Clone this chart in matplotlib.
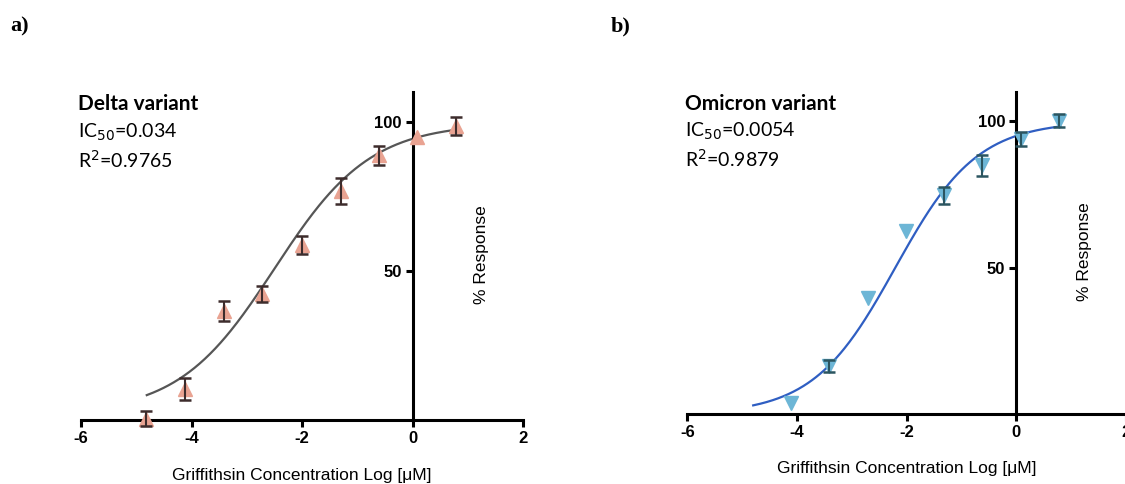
import numpy as np
import matplotlib
matplotlib.use("Agg")
import matplotlib.pyplot as plt

plt.rcParams["axes.unicode_minus"] = False

# ---- data ----
delta_x = [-4.82, -4.11, -3.42, -2.72, -2.01, -1.30, -0.61, 0.08, 0.78]
delta_y = [0.5, 10.5, 36.5, 42.3, 58.8, 76.8, 88.8, 94.9, 98.6]
delta_err = [2.5, 3.6, 3.3, 2.7, 3.0, 4.2, 3.2, 0.0, 3.0]
# 4PL fit parameters (bottom, top, logIC50, hill) for drawn curve
delta_fit = [2.0, 99.5, -2.50, 0.50]
delta_curve_range = [-4.81, 0.80]

omicron_x = [-4.11, -3.41, -2.71, -2.02, -1.32, -0.62, 0.08, 0.78]
omicron_y = [4.0, 16.5, 39.7, 62.5, 74.7, 85.0, 94.0, 100.2]
omicron_err = [0.0, 2.0, 0.0, 0.0, 3.0, 3.6, 2.4, 2.3]
omicron_fit = [0.0, 100.0, -2.21, 0.58]
omicron_curve_range = [-4.80, 0.80]

x_ticks = [-6, -4, -2, 0, 2]
y_ticks = [50, 100]
x_label = "Griffithsin Concentration Log [\u03bcM]"
y_label = "% Response"

panels = [
    dict(tag="a)", title="Delta variant", ic50="0.034", r2="0.9765",
         x=delta_x, y=delta_y, err=delta_err, fit=delta_fit, rng=delta_curve_range,
         marker="^", mcolor="#E9A392", ecolor="#3D2C2C", lcolor="#565656",
         rect=[0.072, 0.132, 0.393, 0.678], tagpos=(0.009, 0.945)),
    dict(tag="b)", title="Omicron variant", ic50="0.0054", r2="0.9879",
         x=omicron_x, y=omicron_y, err=omicron_err, fit=omicron_fit, rng=omicron_curve_range,
         marker="v", mcolor="#6DB6D6", ecolor="#2B5560", lcolor="#2F5EC2",
         rect=[0.611, 0.144, 0.390, 0.666], tagpos=(0.543, 0.945)),
]

fig = plt.figure(figsize=(11.25, 4.84), dpi=100)

def fourpl(x, b, t, c, h):
    return b + (t - b) / (1 + 10 ** ((c - x) * h))

for p in panels:
    ax = fig.add_axes(p["rect"])
    ax.set_xlim(-6, 2)
    ax.set_ylim(0, 110)
    for s in ["top", "right"]:
        ax.spines[s].set_visible(False)
    ax.spines["left"].set_position(("data", 0))
    ax.spines["bottom"].set_position(("data", 0))
    for s in ["left", "bottom"]:
        ax.spines[s].set_linewidth(2.2)
        ax.spines[s].set_color("black")
    ax.set_xticks(x_ticks)
    ax.set_yticks(y_ticks)
    ax.tick_params(axis="both", width=2.2, length=5, direction="out", pad=3,
                   labelsize=12)
    for lab in ax.get_xticklabels() + ax.get_yticklabels():
        lab.set_fontweight("bold")
        lab.set_fontfamily("Liberation Sans")
    ax.patch.set_alpha(0)

    xs = np.linspace(p["rng"][0], p["rng"][1], 300)
    ax.plot(xs, fourpl(xs, *p["fit"]), color=p["lcolor"], lw=1.6, zorder=2)
    ax.plot(p["x"], p["y"], linestyle="none", marker=p["marker"], ms=10,
            color=p["mcolor"], mec=p["mcolor"], zorder=3, clip_on=False)
    xe = [xv for xv, e in zip(p["x"], p["err"]) if e > 0]
    ye = [yv for yv, e in zip(p["y"], p["err"]) if e > 0]
    ee = [e for e in p["err"] if e > 0]
    ax.errorbar(xe, ye, yerr=ee, fmt="none", ecolor=p["ecolor"], elinewidth=1.5,
                capsize=4.5, capthick=1.8, zorder=4, clip_on=False)

    ax.text(-6.05, 106, p["title"], fontsize=15, fontweight="bold",
            family="Lato", va="center", ha="left")
    ax.text(-6.05, 96.5, "IC$_{50}$=" + p["ic50"], fontsize=14,
            family="Lato", va="center", ha="left")
    ax.text(-6.05, 87.2, "R$^{2}$=" + p["r2"], fontsize=14,
            family="Lato", va="center", ha="left")

    ax.text(1.25, 55.5, y_label, rotation=90, fontsize=12.5,
            family="Liberation Sans", va="center", ha="center")
    ax.text(-2, -18.5, x_label, fontsize=12.5, family="Liberation Sans",
            va="center", ha="center")

    fig.text(p["tagpos"][0], p["tagpos"][1], p["tag"], fontsize=16,
             fontweight="bold", family="Liberation Serif", va="center", ha="left")

fig.savefig("out.png", dpi=100)
